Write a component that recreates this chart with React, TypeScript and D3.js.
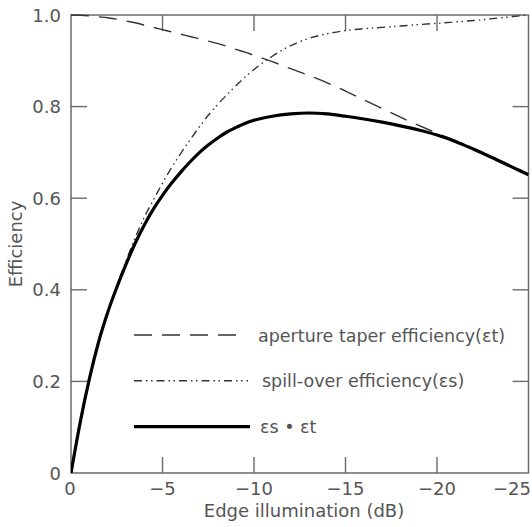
import React from "react";
import * as d3 from "d3";

const edgeDB = [0, -0.5, -1, -1.5, -2, -2.5, -3, -3.5, -4, -4.5, -5, -5.5, -6, -6.5, -7, -7.5, -8, -8.5, -9, -9.5, -10, -11, -12, -13, -14, -15, -16, -17, -18, -19, -20, -21, -22, -23, -24, -25];
const taperEff = [1.0, 0.9995, 0.998, 0.996, 0.994, 0.991, 0.987, 0.983, 0.978, 0.973, 0.968, 0.963, 0.958, 0.953, 0.948, 0.943, 0.938, 0.932, 0.925, 0.919, 0.912, 0.898, 0.883, 0.868, 0.852, 0.834, 0.815, 0.796, 0.777, 0.759, 0.742, 0.726, 0.709, 0.691, 0.672, 0.653];
const spillEff = [0, 0.11, 0.206, 0.287, 0.353, 0.409, 0.462, 0.513, 0.558, 0.596, 0.633, 0.667, 0.698, 0.727, 0.755, 0.781, 0.804, 0.825, 0.845, 0.864, 0.881, 0.91, 0.933, 0.949, 0.959, 0.966, 0.970, 0.973, 0.976, 0.979, 0.982, 0.985, 0.988, 0.992, 0.996, 1.0];
const productEff = [0, 0.11, 0.205, 0.285, 0.35, 0.405, 0.455, 0.501, 0.541, 0.576, 0.606, 0.633, 0.657, 0.679, 0.699, 0.716, 0.731, 0.744, 0.754, 0.763, 0.770, 0.779, 0.784, 0.786, 0.784, 0.779, 0.773, 0.766, 0.758, 0.749, 0.738, 0.724, 0.707, 0.689, 0.670, 0.651];

const xTicks = [0, -5, -10, -15, -20, -25];
const xTickLabels = ["0", "\u22125", "\u221210", "\u221215", "\u221220", "\u221225"];
const yTicks = [0, 0.2, 0.4, 0.6, 0.8, 1.0];
const yTickLabels = ["0", "0.2", "0.4", "0.6", "0.8", "1.0"];
const legendLabels = ["aperture taper efficiency(\u03b5t)", "spill-over efficiency(\u03b5s)", "\u03b5s \u2022 \u03b5t"];

const W = 532, H = 527;
const L = 71, R = 528.5, T = 15, B = 473;
const FRAME = "#6a6a6a";
const TXT = "#555";
const FONT = "'DejaVu Sans', sans-serif";

export default function App() {
  const x = d3.scaleLinear().domain([0, -25]).range([L, R]);
  const y = d3.scaleLinear().domain([0, 1]).range([B, T]);
  const mk = (vals: number[]) =>
    d3.line<number>().x((_, i) => x(edgeDB[i])).y((d) => y(d)).curve(d3.curveMonotoneX)(vals) || "";
  const tickLen = 16;
  const dashTaper = "18,10";
  const dashSpill = "8,4,1.5,3.5,1.5,4";
  const legend = [
    { y: 335, x1: 134, x2: 238, dash: dashTaper, w: 1.4, color: "#333", tx: 258, ty: 341.5 },
    { y: 380.7, x1: 134, x2: 248, dash: dashSpill, w: 1.4, color: "#333", tx: 262, ty: 386.7 },
    { y: 426.7, x1: 134, x2: 250, dash: undefined, w: 3.2, color: "#000", tx: 260, ty: 433 },
  ];
  const last = xTicks.length - 1;
  return (
    <svg width={W} height={H} style={{ position: "absolute", left: 0, top: 0, background: "#fff" }} fontFamily={FONT}>
      <defs>
        <clipPath id="plotclip">
          <rect x={L} y={T - 2} width={R - L} height={B - T + 2} />
        </clipPath>
      </defs>
      <rect x={0} y={0} width={W} height={H} fill="#fff" />
      {xTicks.slice(1, -1).map((t) => (
        <g key={"xt" + t}>
          <line x1={x(t)} x2={x(t)} y1={B} y2={B - tickLen} stroke={FRAME} strokeWidth={1.4} />
          <line x1={x(t)} x2={x(t)} y1={T} y2={T + tickLen} stroke={FRAME} strokeWidth={1.4} />
        </g>
      ))}
      {yTicks.slice(1, -1).map((t) => (
        <g key={"yt" + t}>
          <line x1={L} x2={L + tickLen} y1={y(t)} y2={y(t)} stroke={FRAME} strokeWidth={1.4} />
          <line x1={R} x2={R - tickLen} y1={y(t)} y2={y(t)} stroke={FRAME} strokeWidth={1.4} />
        </g>
      ))}
      <rect x={L} y={T} width={R - L} height={B - T} fill="none" stroke={FRAME} strokeWidth={1.5} />
      {xTicks.map((t, i) => (
        <text
          key={"xl" + t}
          x={i === last ? 531 : x(t) + (i === 0 ? -1 : 0)}
          y={494.5}
          textAnchor={i === last ? "end" : "middle"}
          fontSize={18}
          fill={TXT}
        >
          {xTickLabels[i]}
        </text>
      ))}
      {yTicks.map((t, i) => (
        <text key={"yl" + t} x={61} y={y(t) + 6.5} textAnchor="end" fontSize={18} fill={TXT}>
          {yTickLabels[i]}
        </text>
      ))}
      <text x={304} y={517} textAnchor="middle" fontSize={18} fill={TXT}>
        Edge illumination (dB)
      </text>
      <text transform={`translate(22,${(T + B) / 2}) rotate(-90)`} textAnchor="middle" fontSize={18} fill={TXT}>
        Efficiency
      </text>
      <g clipPath="url(#plotclip)" fill="none">
        <path d={mk(taperEff)} stroke="#333" strokeWidth={1.4} strokeDasharray={dashTaper} />
        <path d={mk(spillEff)} stroke="#333" strokeWidth={1.4} strokeDasharray={dashSpill} />
        <path d={mk(productEff)} stroke="#000" strokeWidth={3.2} />
      </g>
      {legend.map((l, i) => (
        <g key={"lg" + i}>
          <line x1={l.x1} x2={l.x2} y1={l.y} y2={l.y} stroke={l.color} strokeWidth={l.w} strokeDasharray={l.dash} />
          <text x={l.tx} y={l.ty} fontSize={17.5} fill={TXT}>
            {legendLabels[i]}
          </text>
        </g>
      ))}
    </svg>
  );
}
